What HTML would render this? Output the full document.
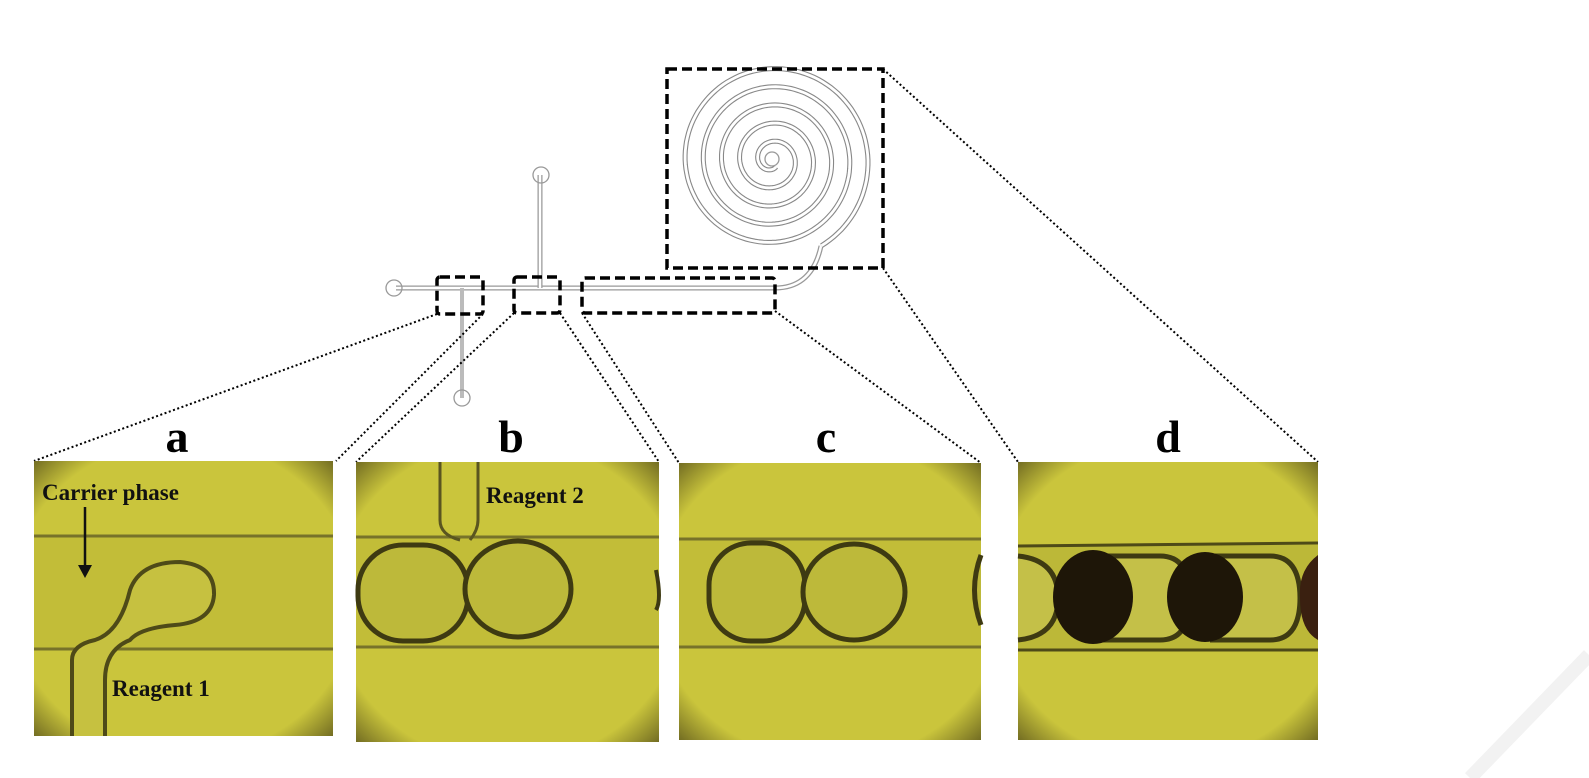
<!DOCTYPE html>
<html><head><meta charset="utf-8"><style>
html,body{margin:0;padding:0;background:#fff;}
svg{display:block;}
.lbl{font-family:"Liberation Serif",serif;font-weight:bold;}
</style></head><body>
<svg id="fig" width="1589" height="778" viewBox="0 0 1589 778" xmlns="http://www.w3.org/2000/svg">
<defs>
<radialGradient id="vig" cx="0.5" cy="0.5" r="0.72">
<stop offset="0.8" stop-color="#cac53c"/><stop offset="1" stop-color="#6a6420"/>
</radialGradient>
</defs>
<g id="chip">
 <path d="M396 288 H775 Q812 288 821 246" fill="none" stroke="#999" stroke-width="5"/>
 <path d="M396 288 H775 Q812 288 821 246" fill="none" stroke="#fff" stroke-width="2.5"/>
 <line x1="540" y1="175" x2="540" y2="288" stroke="#999" stroke-width="5"/>
 <line x1="540" y1="175" x2="540" y2="288" stroke="#fff" stroke-width="2.5"/>
 <line x1="462" y1="288" x2="462" y2="398" stroke="#bbb" stroke-width="4"/>
 <circle cx="394" cy="288" r="8" fill="none" stroke="#999" stroke-width="1.3"/>
 <circle cx="541" cy="175" r="8" fill="none" stroke="#999" stroke-width="1.3"/>
 <circle cx="462" cy="398" r="8" fill="none" stroke="#999" stroke-width="1.3"/>
 <path id="spiralOuter" fill="none" stroke="#888" stroke-width="5"/>
 <path id="spiralInner" fill="none" stroke="#fff" stroke-width="2.8"/>
 <circle cx="772" cy="159" r="7" fill="#fff" stroke="#999" stroke-width="1.3"/>
</g>
<g fill="none" stroke="#000" stroke-width="3.5" stroke-dasharray="10 5">
 <rect x="667" y="69" width="216" height="199"/>
 <rect x="437" y="277" width="46" height="37" rx="3"/>
 <rect x="514" y="277" width="46" height="36" rx="3"/>
 <rect x="582" y="278" width="193" height="35" rx="3"/>
</g>
<g stroke="#000" stroke-width="2" stroke-dasharray="2 2.5" fill="none">
 <line x1="437" y1="314" x2="34" y2="461"/>
 <line x1="483" y1="314" x2="336" y2="461"/>
 <line x1="514" y1="313" x2="356" y2="462"/>
 <line x1="560" y1="313" x2="659" y2="462"/>
 <line x1="582" y1="313" x2="679" y2="463"/>
 <line x1="775" y1="311" x2="981" y2="463"/>
 <line x1="883" y1="69" x2="1318" y2="462"/>
 <line x1="883" y1="268" x2="1018" y2="462"/>
</g>
<g class="lbl" font-size="46" text-anchor="middle" fill="#000">
 <text x="177" y="452">a</text>
 <text x="511" y="452">b</text>
 <text x="826" y="452">c</text>
 <text x="1168" y="452">d</text>
</g>
<g>
 <rect x="34" y="461" width="299" height="275" fill="url(#vig)"/>
 <rect x="34" y="535" width="299" height="115" fill="#c2bd38"/>
 <line x1="34" y1="536" x2="333" y2="536" stroke="#77722a" stroke-width="3"/>
 <line x1="34" y1="649" x2="333" y2="649" stroke="#77722a" stroke-width="3"/>
 <path d="M72 736 V660 Q72 645 95 640 Q120 632 130 590 Q140 562 180 562 Q215 565 214 595 Q212 622 175 625 Q140 628 130 640 Q105 650 105 680 V736" fill="#c6c140" stroke="#4e4a18" stroke-width="4"/>
 <text class="lbl" x="42" y="500" font-size="23" fill="#111">Carrier phase</text>
 <line x1="85" y1="507" x2="85" y2="570" stroke="#111" stroke-width="2.5"/>
 <path d="M78 565 L85 578 L92 565 Z" fill="#111"/>
 <text class="lbl" x="112" y="696" font-size="23" fill="#111">Reagent 1</text>
</g>
<g>
 <rect x="356" y="462" width="303" height="280" fill="url(#vig)"/>
 <rect x="356" y="536" width="303" height="112" fill="#c2bd38"/>
 <line x1="356" y1="537" x2="659" y2="537" stroke="#77722a" stroke-width="3"/>
 <line x1="356" y1="647" x2="659" y2="647" stroke="#77722a" stroke-width="3"/>
 <path d="M440 462 V520 Q440 535 460 540 M478 462 V520 Q478 530 470 540" fill="none" stroke="#5a5520" stroke-width="3"/>
 <rect x="358" y="545" width="110" height="96" rx="45" fill="#bdb93a" stroke="#3e3a12" stroke-width="5"/>
 <ellipse cx="518" cy="589" rx="53" ry="48" fill="#bdb93a" stroke="#3e3a12" stroke-width="5"/>
 <path d="M656 570 Q662 600 656 610" stroke="#3e3a12" stroke-width="4" fill="none"/>
 <text class="lbl" x="486" y="503" font-size="23" fill="#111">Reagent 2</text>
</g>
<g>
 <rect x="679" y="463" width="302" height="277" fill="url(#vig)"/>
 <rect x="679" y="538" width="302" height="110" fill="#c2bd38"/>
 <line x1="679" y1="539" x2="981" y2="539" stroke="#77722a" stroke-width="3"/>
 <line x1="679" y1="647" x2="981" y2="647" stroke="#77722a" stroke-width="3"/>
 <rect x="709" y="543" width="96" height="98" rx="42" fill="#bdb93a" stroke="#3e3a12" stroke-width="5"/>
 <ellipse cx="854" cy="592" rx="51" ry="48" fill="#bdb93a" stroke="#3e3a12" stroke-width="5"/>
 <path d="M981 555 Q968 590 981 625" stroke="#3e3a12" stroke-width="5" fill="#bdb93a"/>
</g>
<g>
 <rect x="1018" y="462" width="300" height="278" fill="url(#vig)"/>
 <rect x="1018" y="545" width="300" height="104" fill="#bcb838"/>
 <line x1="1018" y1="546" x2="1318" y2="543" stroke="#4e4a18" stroke-width="3"/>
 <line x1="1018" y1="650" x2="1318" y2="650" stroke="#4e4a18" stroke-width="3"/>
 <path d="M1018 556 Q1058 560 1058 598 Q1058 636 1018 640" fill="#c4c048" stroke="#3e3a12" stroke-width="5"/>
 <path d="M1090 556 H1160 Q1190 556 1190 598 Q1190 640 1160 640 H1100" fill="#c4c048" stroke="#3e3a12" stroke-width="5"/>
 <path d="M1200 556 H1270 Q1300 556 1300 598 Q1300 640 1270 640 H1210" fill="#c4c048" stroke="#3e3a12" stroke-width="5"/>
 <ellipse cx="1093" cy="597" rx="40" ry="47" fill="#1e1608"/>
 <ellipse cx="1205" cy="597" rx="38" ry="45" fill="#1e1608"/>
 <path d="M1318 555 Q1298 570 1300 598 Q1300 630 1318 640 Z" fill="#3a2010"/>
</g>
<g stroke="#f2f2f2" stroke-width="14" fill="none">
 <path d="M1470 778 L1589 655"/>
</g>
</svg>
<script>
var cx=772,cy=160,turns=5,rmax=99,phase=Math.PI/3;
var d="";
for(var i=0;i<=turns*120;i++){
 var t=i/120;var a=t*2*Math.PI+phase;var r=8+(rmax-8)*t/turns;
 var x=cx+r*Math.cos(a),y=cy+r*Math.sin(a);
 d+=(i?"L":"M")+x.toFixed(1)+" "+y.toFixed(1);
}
document.getElementById('spiralOuter').setAttribute('d',d);
document.getElementById('spiralInner').setAttribute('d',d);
</script>
</body></html>
